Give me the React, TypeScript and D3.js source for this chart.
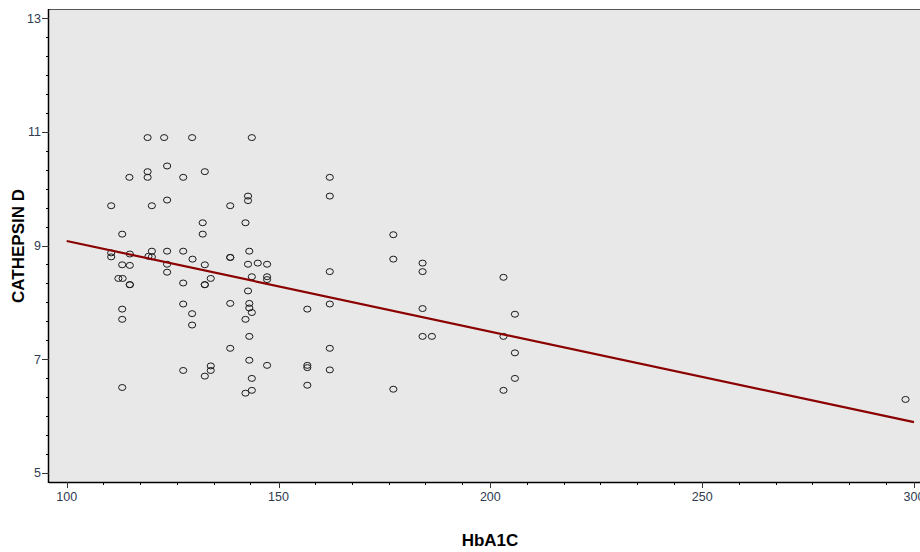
import { useEffect, useRef } from "react";
import * as d3 from "d3";

// HbA1C (x) and CATHEPSIN D (y)
const hba1c = [
  110.5, 110.5, 110.5, 112.2, 113.1, 113.1, 113.1, 113.1, 113.1, 113.2,
  114.8, 114.9, 114.9, 114.9, 114.9,
  119.1, 119.1, 119.1, 120.1, 120.1, 119.3, 120.1,
  123.0, 123.7, 123.7, 123.7, 123.7, 123.7,
  127.5, 127.5, 127.5, 127.5, 127.5,
  129.6, 129.7, 129.6, 129.6,
  132.1, 132.1, 132.6, 132.6, 132.6, 132.6, 132.6,
  134.0, 134.0, 134.0,
  138.6, 138.6, 138.6, 138.6, 138.6,
  143.7, 142.8, 142.8, 142.2, 143.1, 142.8, 143.7, 142.8, 143.1, 143.1,
  143.7, 142.2, 143.1, 143.1, 143.7, 142.2, 143.7,
  145.1, 147.3, 147.3, 147.3, 147.3,
  156.8, 156.8, 156.8, 156.8,
  162.1, 162.1, 162.1, 162.1, 162.1, 162.1,
  177.1, 177.1, 177.1,
  184.0, 184.0, 184.0, 184.0, 186.2,
  203.1, 203.1, 203.1,
  205.8, 205.8, 205.8,
  298.0,
];
const cathepsinD = [
  9.7, 8.87, 8.8, 8.42, 9.2, 8.66, 7.88, 7.7, 6.5, 8.42,
  10.2, 8.85, 8.65, 8.31, 8.31,
  10.9, 10.3, 10.2, 9.7, 8.9, 8.81, 8.8,
  10.9, 10.4, 9.8, 8.9, 8.67, 8.53,
  10.2, 8.9, 8.34, 7.97, 6.8,
  10.9, 8.76, 7.8, 7.6,
  9.4, 9.2, 10.3, 8.66, 8.31, 8.31, 6.7,
  8.42, 6.88, 6.8,
  9.7, 8.79, 8.79, 7.98, 7.19,
  10.9, 9.87, 9.79, 9.4, 8.9, 8.67, 8.45, 8.2, 7.98, 7.9,
  7.82, 7.7, 7.4, 6.98, 6.66, 6.4, 6.45,
  8.69, 8.67, 8.45, 8.4, 6.89,
  7.88, 6.89, 6.85, 6.54,
  10.2, 9.87, 8.54, 7.97, 7.19, 6.81,
  9.19, 8.76, 6.47,
  8.69, 8.54, 7.89, 7.4, 7.4,
  8.44, 7.4, 6.45,
  7.79, 7.11, 6.66,
  6.29,
];

// fit line end points
const fitX = [100, 300];
const fitY = [9.08, 5.89];

const xTicks = [100, 150, 200, 250, 300];
const yTicks = [5, 7, 9, 11, 13];

export default function App() {
  const ref = useRef<SVGSVGElement>(null);

  useEffect(() => {
    const width = 920;
    const height = 552;
    const left = 49;
    const top = 9;
    const right = 920;
    const bottom = 482;

    const svg = d3.select(ref.current);
    svg.selectAll("*").remove();

    const x = d3.scaleLinear().domain([100, 300]).range([66.7, 914]);
    const y = d3.scaleLinear().domain([5, 13]).range([472.7, 18.3]);

    svg
      .append("rect")
      .attr("x", left)
      .attr("y", top)
      .attr("width", right - left)
      .attr("height", bottom - top)
      .attr("fill", "#e8e8e8");

    // top border
    svg
      .append("line")
      .attr("x1", left)
      .attr("x2", right)
      .attr("y1", top + 0.5)
      .attr("y2", top + 0.5)
      .attr("stroke", "#555")
      .attr("stroke-width", 1);

    const tickColor = "#2f3b52";
    const font = "'Liberation Sans', Arial, sans-serif";

    // x axis
    const xMinor: number[] = [];
    xTicks.slice(0, -1).forEach((m) => {
      for (let k = 1; k <= 5; k++) xMinor.push(m + (k * 26) / 3);
    });
    const gx = svg.append("g");
    gx.append("line")
      .attr("x1", left)
      .attr("x2", right)
      .attr("y1", bottom + 0.5)
      .attr("y2", bottom + 0.5)
      .attr("stroke", "#000")
      .attr("stroke-width", 1.5);
    gx.selectAll("line.minor")
      .data(xMinor)
      .enter()
      .append("line")
      .attr("class", "minor")
      .attr("x1", (d) => Math.round(x(d)) + 0.5)
      .attr("x2", (d) => Math.round(x(d)) + 0.5)
      .attr("y1", bottom)
      .attr("y2", bottom + 3)
      .attr("stroke", "#000");
    gx.selectAll("line.major")
      .data(xTicks)
      .enter()
      .append("line")
      .attr("class", "major")
      .attr("x1", (d) => Math.round(x(d)) + 0.5)
      .attr("x2", (d) => Math.round(x(d)) + 0.5)
      .attr("y1", bottom)
      .attr("y2", bottom + 6)
      .attr("stroke", "#333");
    gx.selectAll("text")
      .data(xTicks)
      .enter()
      .append("text")
      .attr("x", (d) => x(d))
      .attr("y", 501)
      .attr("text-anchor", "middle")
      .style("font-family", font)
      .style("font-size", "12.5px")
      .style("fill", tickColor)
      .text((d) => d);

    // y axis
    const yMinor: number[] = [];
    for (let v = 5; v < 13; v++) {
      for (let k = 1; k <= 2; k++) yMinor.push(v + k / 3);
    }
    const yMinorAll = yMinor.concat([6, 8, 10, 12]);
    const gy = svg.append("g");
    gy.append("line")
      .attr("x1", left - 0.5)
      .attr("x2", left - 0.5)
      .attr("y1", top)
      .attr("y2", bottom + 1)
      .attr("stroke", "#000")
      .attr("stroke-width", 1.5);
    gy.selectAll("line.minor")
      .data(yMinorAll)
      .enter()
      .append("line")
      .attr("class", "minor")
      .attr("x1", left - 3)
      .attr("x2", left)
      .attr("y1", (d) => Math.round(y(d)) + 0.5)
      .attr("y2", (d) => Math.round(y(d)) + 0.5)
      .attr("stroke", "#000");
    gy.selectAll("line.major")
      .data(yTicks)
      .enter()
      .append("line")
      .attr("class", "major")
      .attr("x1", left - 7)
      .attr("x2", left)
      .attr("y1", (d) => Math.round(y(d)) + 0.5)
      .attr("y2", (d) => Math.round(y(d)) + 0.5)
      .attr("stroke", "#333");
    gy.selectAll("text")
      .data(yTicks)
      .enter()
      .append("text")
      .attr("x", 41)
      .attr("y", (d) => y(d) + 4.5)
      .attr("text-anchor", "end")
      .style("font-family", font)
      .style("font-size", "12.5px")
      .style("fill", tickColor)
      .text((d) => d);

    // points
    svg
      .append("g")
      .selectAll("ellipse")
      .data(hba1c.map((v, i) => [v, cathepsinD[i]]))
      .enter()
      .append("ellipse")
      .attr("cx", (d) => x(d[0]))
      .attr("cy", (d) => y(d[1]))
      .attr("rx", 3.6)
      .attr("ry", 3)
      .attr("fill", "none")
      .attr("stroke", "#1a1a1a")
      .attr("stroke-width", 1);

    // fit line
    const line = d3
      .line<number>()
      .x((d) => x(d))
      .y((d, i) => y(fitY[i]));
    svg
      .append("path")
      .attr("d", line(fitX))
      .attr("fill", "none")
      .attr("stroke", "#8b0000")
      .attr("stroke-width", 2.2);

    // titles
    svg
      .append("text")
      .attr("x", 490)
      .attr("y", 546)
      .attr("text-anchor", "middle")
      .style("font-family", font)
      .style("font-size", "17px")
      .style("font-weight", "700")
      .style("fill", "#000")
      .text("HbA1C");

    svg
      .append("text")
      .attr("transform", `translate(24, 246) rotate(-90)`)
      .attr("text-anchor", "middle")
      .style("font-family", font)
      .style("font-size", "17px")
      .style("font-weight", "700")
      .style("fill", "#000")
      .text("CATHEPSIN D");

    svg.attr("width", width).attr("height", height);
  }, []);

  return (
    <svg
      ref={ref}
      width={920}
      height={552}
      style={{ position: "absolute", left: 0, top: 0, background: "#fff" }}
    ></svg>
  );
}
